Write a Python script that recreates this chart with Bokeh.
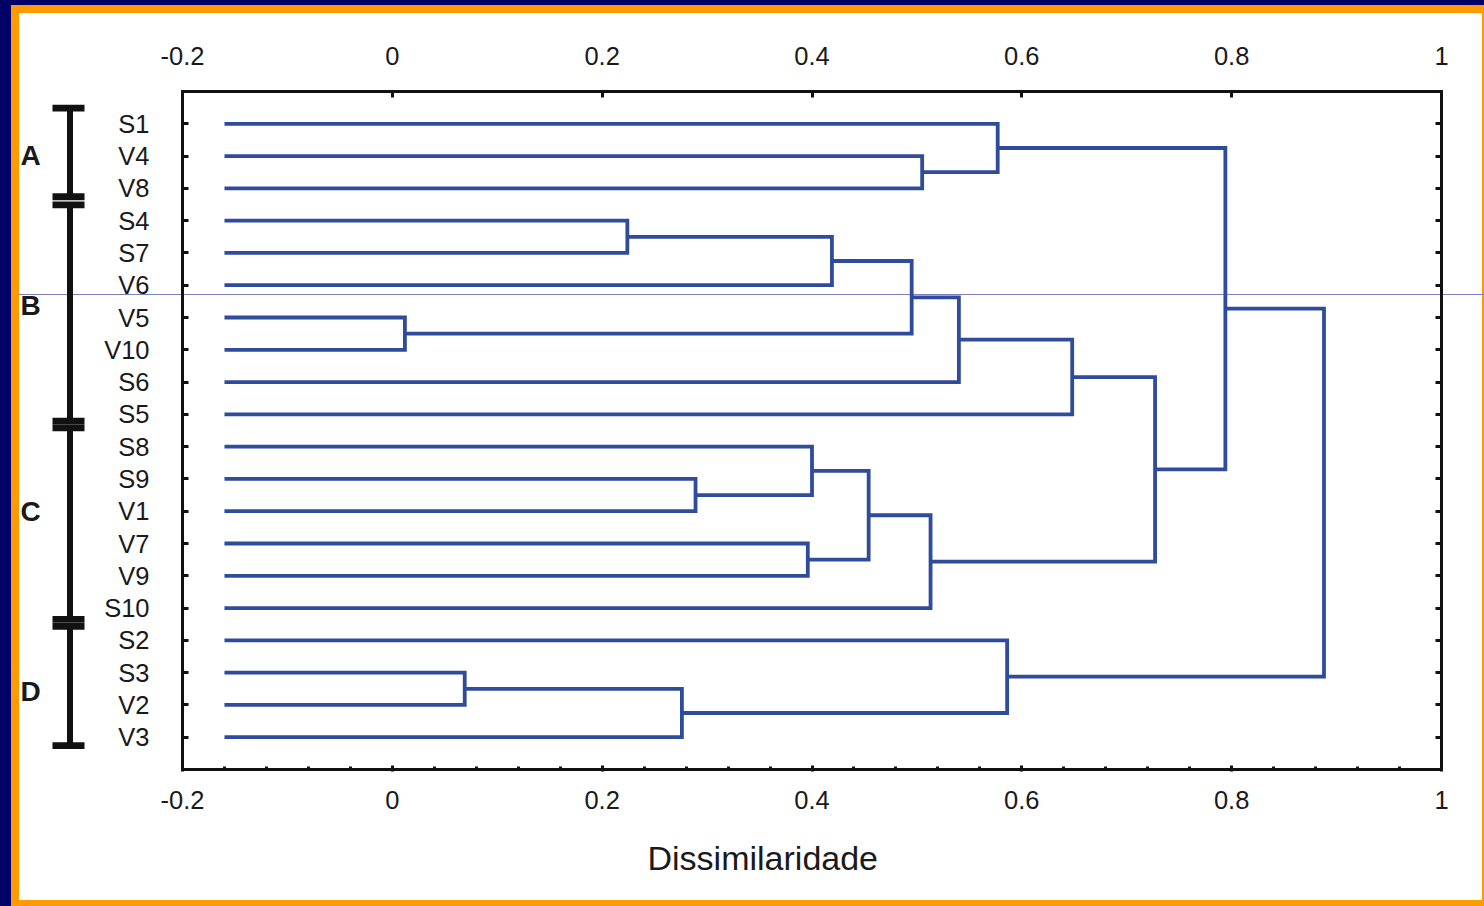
from bokeh.plotting import figure
from bokeh.models import Range1d, LinearAxis, FixedTicker, Title
from bokeh.layouts import row
from bokeh.embed import file_html
from bokeh.resources import INLINE
from bokeh.core.properties import value

# ---------------- data ----------------
leaves = ["S1", "V4", "V8", "S4", "S7", "V6", "V5", "V10", "S6", "S5",
          "S8", "S9", "V1", "V7", "V9", "S10", "S2", "S3", "V2", "V3"]

# linkage: node n{k} = merge_a[k] + merge_b[k] at dissimilarity merge_h[k]
merge_a = ["V4", "S1", "S4", "n2", "V5", "n3", "n5", "n6", "S9", "S8",
           "V7", "n9", "n11", "n7", "n1", "S3", "n15", "S2", "n14"]
merge_b = ["V8", "n0", "S7", "V6", "V10", "n4", "S6", "S5", "V1", "n8",
           "V9", "n10", "S10", "n12", "n13", "V2", "V3", "n16", "n17"]
merge_h = [0.505, 0.577, 0.224, 0.419, 0.012, 0.495, 0.540, 0.648, 0.289, 0.400,
           0.396, 0.454, 0.513, 0.727, 0.794, 0.069, 0.276, 0.586, 0.888]
leaf_start = -0.16

x_ticks = [-0.2, 0, 0.2, 0.4, 0.6, 0.8, 1]
x_tick_labels = ["-0.2", "0", "0.2", "0.4", "0.6", "0.8", "1"]
x_minor_ticks = [round(-0.2 + 0.04 * i, 2) for i in range(31)]

groups = ["A", "B", "C", "D"]
group_top = [0.515, 3.51, 10.42, 16.57]
group_bottom = [3.26, 10.21, 16.35, 20.26]
group_label_y = [1.98, 6.62, 13.02, 18.58]

axis_title = "Dissimilaridade"

# ---------------- layout / style ----------------
W, H = 1484, 906
LW = 96                          # width of the bracket panel
F_L, F_R, F_T, F_B = 182, 1441, 91, 770   # plot frame edges (page px)
FONT = "Liberation Sans"
TXT = "#1a1a1a"
LINE = "#2F4B9B"
ORANGE = "#FF9A00"
NAVY = "#000066"

leaf_pos = list(range(1, len(leaves) + 1))
n_rows = len(leaves) + 1
px_per_row = (F_B - F_T) / n_rows

# ---------------- main figure ----------------
p = figure(width=W - LW, height=H, output_backend="svg", toolbar_location=None,
           x_range=Range1d(-0.2, 1.0), y_range=Range1d(n_rows, 0),
           x_axis_location=None, y_axis_location=None,
           min_border_left=F_L - LW, min_border_right=W - F_R,
           min_border_top=F_T, min_border_bottom=H - F_B,
           outline_line_color=None, background_fill_color=None,
           border_fill_color=None)
p.grid.visible = False

pos = {name: (leaf_start, y) for name, y in zip(leaves, leaf_pos)}
xs, ys = [], []
for k, (a, b, h) in enumerate(zip(merge_a, merge_b, merge_h)):
    xa, ya = pos[a]
    xb, yb = pos[b]
    xs.append([xa, h, h, xb])
    ys.append([ya, ya, yb, yb])
    pos["n%d" % k] = (h, (ya + yb) / 2)
p.multi_line(xs, ys, line_color=LINE, line_width=3.8, line_join="miter")


def style_axis(ax):
    ax.axis_line_width = 3
    ax.axis_line_color = "#111111"
    ax.axis_line_cap = "square"
    ax.major_tick_line_width = 3
    ax.major_tick_line_color = "#111111"
    ax.minor_tick_line_width = 3
    ax.minor_tick_line_color = "#111111"
    ax.major_label_text_font = FONT
    ax.major_label_text_font_size = "25.5px"
    ax.major_label_text_color = TXT
    ax.major_tick_out = 0
    ax.minor_tick_in = 0
    ax.minor_tick_out = 0


xo = dict(zip(x_ticks, x_tick_labels))

top = LinearAxis(ticker=FixedTicker(ticks=x_ticks), major_label_overrides=xo)
style_axis(top)
top.major_tick_in = 6
top.major_label_standoff = 27
p.add_layout(top, "above")

bottom = LinearAxis(ticker=FixedTicker(ticks=x_ticks, minor_ticks=x_minor_ticks),
                    major_label_overrides=xo)
style_axis(bottom)
bottom.major_tick_in = 4
bottom.major_tick_out = 2
bottom.minor_tick_in = 3
bottom.minor_tick_out = 1
bottom.major_label_standoff = 19
p.add_layout(bottom, "below")

left = LinearAxis(ticker=FixedTicker(ticks=leaf_pos),
                  major_label_overrides=dict(zip(leaf_pos, leaves)))
style_axis(left)
left.major_tick_in = 6
left.major_label_standoff = 33
p.add_layout(left, "left")

right = LinearAxis(ticker=FixedTicker(ticks=leaf_pos),
                   major_label_overrides={t: "" for t in leaf_pos})
style_axis(right)
right.major_tick_in = 6
p.add_layout(right, "right")

p.add_layout(Title(text=axis_title, align="left", offset=465, vertical_align="top",
                   standoff=55, text_font=FONT, text_font_size="34px",
                   text_font_style="normal", text_color=TXT), "below")

# ---------------- bracket panel (left); its frame aligns with the main frame ----------------
g = figure(width=LW, height=H, output_backend="svg", toolbar_location=None,
           x_range=Range1d(0, LW), y_range=p.y_range,
           x_axis_location=None, y_axis_location=None,
           min_border=0, min_border_top=F_T, min_border_bottom=H - F_B,
           outline_line_color=None,
           background_fill_color=None, border_fill_color=None)
g.grid.visible = False

CAP = 3.4 / px_per_row   # half thickness of a bracket cap
cap_y = group_top + group_bottom
g.quad(left=66.5, right=72.5, top=group_top, bottom=group_bottom,
       fill_color="#111111", line_color=None)
g.quad(left=52, right=84, top=[y - CAP for y in cap_y], bottom=[y + CAP for y in cap_y],
       fill_color="#111111", line_color=None)
g.text(x=20, y=group_label_y, text=groups, text_font=value(FONT),
       text_font_style="bold", text_font_size=value("28px"), text_color=TXT,
       text_align="left", text_baseline="middle")

# ---------------- page frame decoration (CSS background of the row) ----------------
layers = [
    ("#7D80C2", "19px 294px", "1465px 1px"),
    (NAVY, "0px 0px", "11px 100%"),
    (NAVY, "0px 0px", "100% 5px"),
    (ORANGE, "11px 5px", "8px 100%"),
    (ORANGE, "11px 5px", "100% 8px"),
    (ORANGE, "1482px 0px", "2px 100%"),
    (ORANGE, "0px 900px", "100% 6px"),
]
styles = {
    "background-color": "white",
    "background-image": ", ".join("linear-gradient(%s, %s)" % (c, c) for c, _, _ in layers),
    "background-position": ", ".join(pp for _, pp, _ in layers),
    "background-size": ", ".join(s for _, _, s in layers),
    "background-repeat": "no-repeat",
}

layout = row(g, p, styles=styles)

open("out.html", "w").write(file_html(layout, INLINE))
